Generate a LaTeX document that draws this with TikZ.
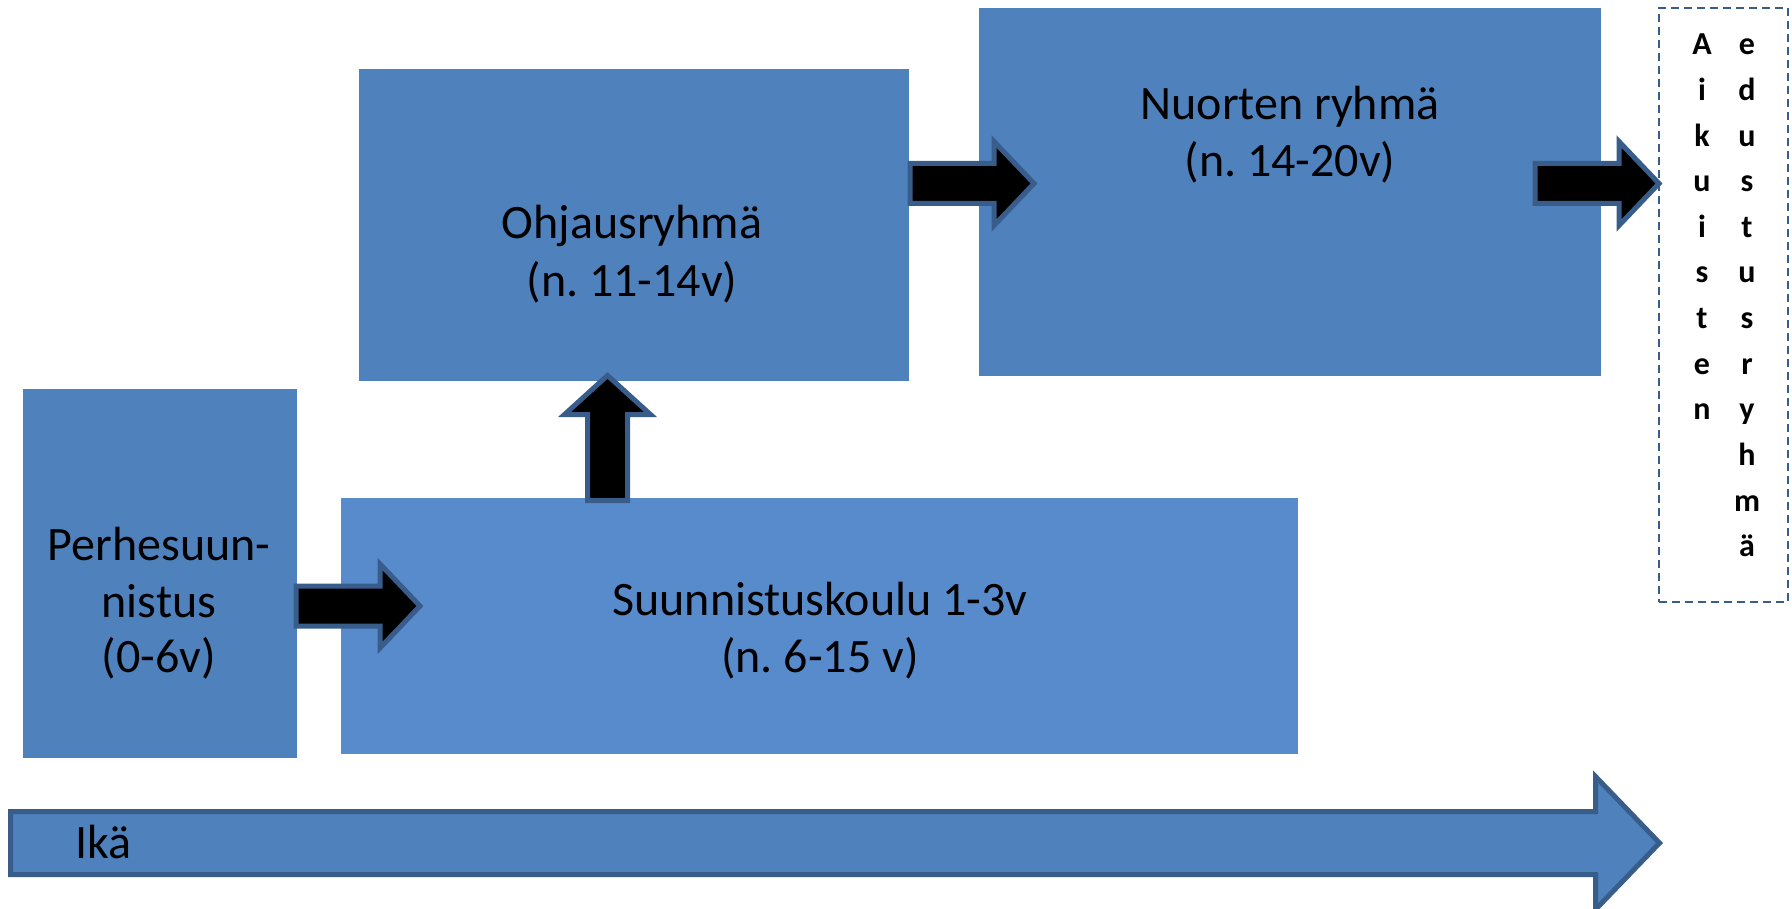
\documentclass[tikz,border=0pt]{standalone}
\usepackage{fontspec}
\setmainfont{Carlito}
\frenchspacing
\definecolor{boxblue}{HTML}{4F81BD}
\definecolor{lightblue}{HTML}{578BCB}
\definecolor{edgeblue}{HTML}{385D8A}
\begin{document}
\begin{tikzpicture}[x=1pt,y=-1pt,
  box/.style={fill=boxblue, inner sep=0pt, outer sep=0pt, anchor=north west},
  lbl/.style={font=\fontsize{48}{58}\selectfont, anchor=base, inner sep=0pt, text=black},
  vlet/.style={font=\bfseries\fontsize{32}{40}\selectfont, anchor=base, inner sep=0pt, text=black},
  blockarrow/.style={fill=black, draw=edgeblue, line width=5pt, line join=miter},
  agearrow/.style={fill=boxblue, draw=edgeblue, line width=5pt, line join=miter},
  dashbox/.style={draw=edgeblue, line width=1.8pt, dash pattern=on 8pt off 5pt, inner sep=0pt, outer sep=0pt, anchor=north west}]
\useasboundingbox (0,0) rectangle (1792,909);

% boxes
\node[box, minimum width=274pt, minimum height=369pt] (perhe) at (23,389) {};
\node[box, fill=lightblue, minimum width=957pt, minimum height=256pt] (koulu) at (341,498) {};
\node[box, minimum width=550pt, minimum height=312pt] (ohjaus) at (359,69) {};
\node[box, minimum width=622pt, minimum height=368pt] (nuoret) at (979,8) {};
\node[dashbox, minimum width=129pt, minimum height=594pt] (aikuiset) at (1659,8) {};

% texts
\node[lbl] (t1a) at (159,560) {Perhesuun-};
\node[lbl] (t1b) at (159,617) {nistus};
\node[lbl] (t1c) at (159,672) {(0-6v)};
\node[lbl] (t2a) at (820,615) {Suunnistuskoulu 1-3v};
\node[lbl] (t2b) at (820,672) {(n. 6-15 v)};
\node[lbl] (t3a) at (632,239) {Ohjausryhmä};
\node[lbl] (t3b) at (632,297) {(n. 11-14v)};
\node[lbl] (t4a) at (1290,120) {Nuorten ryhmä};
\node[lbl] (t4b) at (1290,177) {(n. 14-20v)};

\foreach \ch [count=\i from 0] in {A,i,k,u,i,s,t,e,n}
  \node[vlet] (l\i) at (1702,55+45.6*\i) {\ch};
\foreach \ch [count=\i from 0] in {e,d,u,s,t,u,s,r,y,h,m,ä}
  \node[vlet] (r\i) at (1747,55+45.6*\i) {\ch};

% block arrows
\coordinate (a1) at (296,606);
\draw[blockarrow] (a1) ++(0,-20) -- ++(84,0) -- ++(0,-22) -- ++(40,42) -- ++(-40,42) -- ++(0,-22) -- ++(-84,0) -- cycle;
\coordinate (a2) at (607.5,500.5);
\draw[blockarrow] (a2) ++(-20,0) -- ++(0,-86) -- ++(-23,0) -- ++(43,-39) -- ++(43,39) -- ++(-23,0) -- ++(0,86) -- cycle;
\coordinate (a3) at (910,183.5);
\draw[blockarrow] (a3) ++(0,-20) -- ++(84,0) -- ++(0,-22) -- ++(40,42) -- ++(-40,42) -- ++(0,-22) -- ++(-84,0) -- cycle;
\coordinate (a4) at (1535,183.5);
\draw[blockarrow] (a4) ++(0,-20) -- ++(84,0) -- ++(0,-22) -- ++(40,42) -- ++(-40,42) -- ++(0,-22) -- ++(-84,0) -- cycle;

% age arrow
\coordinate (ika) at (10.5,843);
\draw[agearrow] (ika) ++(0,-31.5) -- ++(1585,0) -- ++(0,-35) -- ++(64,66.5) -- ++(-64,66.5) -- ++(0,-35) -- ++(-1585,0) -- cycle;
\node[lbl, anchor=base west] (ikat) at (75,858) {Ikä};
\end{tikzpicture}
\end{document}
